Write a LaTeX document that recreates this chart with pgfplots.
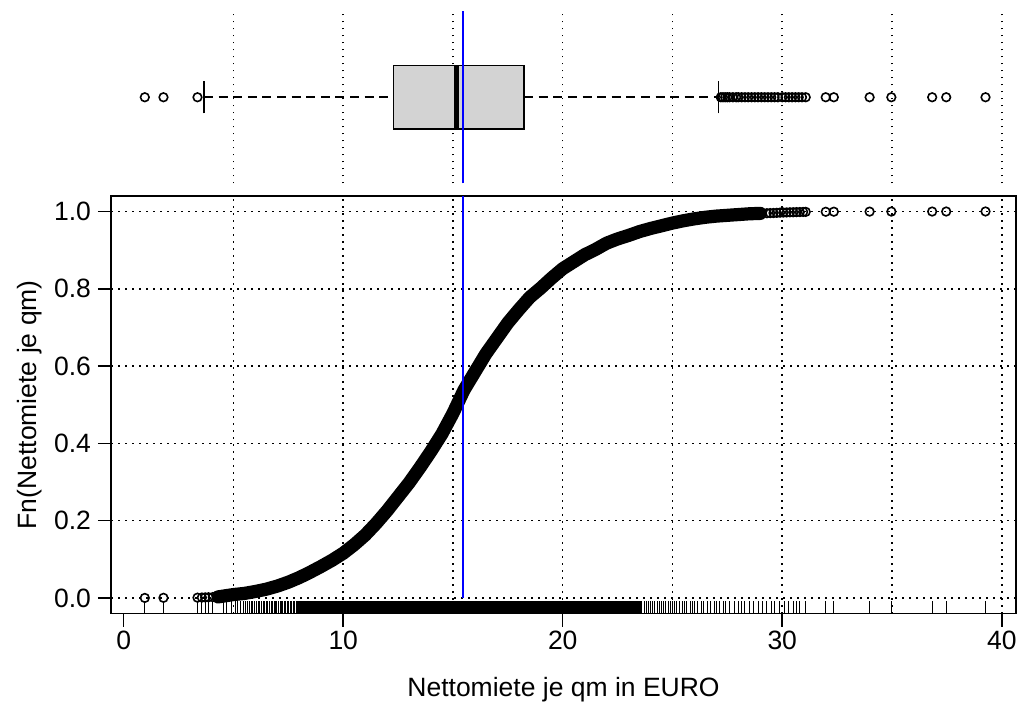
\documentclass[border=0pt]{standalone}
\usepackage{fontspec}
\setmainfont{Liberation Sans}
\usepackage{pgfplots}
\pgfplotsset{compat=1.18}
\definecolor{boxgray}{RGB}{211,211,211}
\pgfplotsset{
  gridst/.style={black, line width=0.75pt, dash pattern=on 0.75pt off 2.75pt},
  every tick label/.append style={font=\fontsize{13.25}{15}\selectfont},
  every axis label/.append style={font=\fontsize{13.25}{15}\selectfont},
}
\begin{document}
\begin{tikzpicture}
\useasboundingbox (0,0) rectangle (510pt,356.5pt);
% ---------------- top panel: boxplot ----------------
\begin{axis}[at={(55.5pt,264.75pt)}, anchor=south west, scale only axis,
  width=452.5pt, height=86.25pt,
  xmin=-0.58, xmax=40.65, ymin=0, ymax=1,
  axis line style={draw=none},
  xtick={5,10,15,20,25,30,35,40}, xticklabels={}, ytick=\empty,
  major tick length=0pt, xmajorgrids, major grid style={gridst},
  clip=false]
% whiskers
\addplot[black, line width=0.9pt, dash pattern=on 4.5pt off 2.8pt] coordinates {(3.66,0.5) (12.29,0.5)};
\addplot[black, line width=0.9pt, dash pattern=on 4.5pt off 2.8pt] coordinates {(18.24,0.5) (27.1,0.5)};
\addplot[black, line width=0.8pt] coordinates {(3.66,0.407) (3.66,0.594)};
\addplot[black, line width=0.8pt] coordinates {(27.1,0.407) (27.1,0.594)};
% box
\addplot[fill=boxgray, draw=black, line width=0.8pt] coordinates {(12.29,0.316) (18.24,0.316) (18.24,0.684) (12.29,0.684)} -- cycle;
\addplot[black, line width=2.6pt] coordinates {(15.15,0.316) (15.15,0.684)};
% outliers
\addplot[only marks, mark=o, mark size=2.15pt, mark options={line width=0.8pt, black}] coordinates {
(0.96,0.5) (1.81,0.5) (3.36,0.5)
(27.2,0.5) (27.3,0.5) (27.4,0.5) (27.5,0.5) (27.6,0.5) (27.75,0.5) (27.9,0.5) (28.0,0.5) (28.15,0.5)
(28.3,0.5) (28.45,0.5) (28.6,0.5) (28.75,0.5) (28.9,0.5) (29.05,0.5) (29.2,0.5) (29.35,0.5)
(29.5,0.5) (29.65,0.5) (29.8,0.5) (30.0,0.5) (30.15,0.5) (30.3,0.5) (30.45,0.5) (30.6,0.5)
(30.75,0.5) (30.9,0.5) (31.07,0.5) (31.98,0.5) (32.35,0.5) (33.98,0.5) (34.97,0.5)
(36.83,0.5) (37.47,0.5) (39.26,0.5)};
\addplot[blue, line width=0.7pt] coordinates {(15.45,0) (15.45,1)};
\end{axis}
% ---------------- bottom panel: ECDF ----------------
\begin{axis}[at={(55.5pt,49.75pt)}, anchor=south west, scale only axis,
  width=452.5pt, height=208.75pt,
  xmin=-0.58, xmax=40.65, ymin=-0.04, ymax=1.04,
  xtick={0,10,20,30,40}, xticklabels={0,10,20,30,40},
  ytick={0,0.2,0.4,0.6,0.8,1}, yticklabels={0.0,0.2,0.4,0.6,0.8,1.0},
  minor xtick={5,10,15,20,25,30,35,40}, xminorgrids, ymajorgrids,
  major grid style={gridst}, minor grid style={gridst},
  tick align=outside, major tick length=6.5pt, minor tick length=0pt,
  xtick pos=lower, ytick pos=left,
  xticklabel style={yshift=1.5pt},
  axis line style={line width=0.75pt},
  major tick style={line width=0.75pt, black},
  xlabel={Nettomiete je qm in EURO}, ylabel={Fn(Nettomiete je qm)},
  xlabel style={at={(axis description cs:0.5,-0.1832)}, anchor=center},
  ylabel style={at={(axis description cs:-0.0895,0.5)}, anchor=center, rotate=0},
  ]
% rug
\addplot[fill=black, draw=none] coordinates {(7.9,-0.04) (23.6,-0.04) (23.6,-0.0077) (7.9,-0.0077)} -- cycle;
\addplot[only marks, mark=|, mark size=3.125pt, mark options={line width=0.45pt, black}] coordinates {
(0.96,-0.02385) (1.81,-0.02385) (3.36,-0.02385) (3.56,-0.02385) (3.71,-0.02385) (3.86,-0.02385) (4.06,-0.02385)
(4.55,-0.02385) (4.7,-0.02385) (4.93,-0.02385) (5.08,-0.02385) (5.2,-0.02385) (5.3,-0.02385) (5.45,-0.02385) (5.55,-0.02385) (5.65,-0.02385)
(5.72,-0.02385) (5.8,-0.02385) (5.88,-0.02385) (5.95,-0.02385) (6.05,-0.02385) (6.12,-0.02385) (6.2,-0.02385) (6.28,-0.02385) (6.35,-0.02385) (6.42,-0.02385) (6.5,-0.02385)
(6.57,-0.02385) (6.64,-0.02385) (6.72,-0.02385) (6.78,-0.02385) (6.85,-0.02385) (6.92,-0.02385) (6.98,-0.02385) (7.05,-0.02385) (7.12,-0.02385) (7.18,-0.02385) (7.25,-0.02385)
(7.32,-0.02385) (7.38,-0.02385) (7.45,-0.02385) (7.52,-0.02385) (7.58,-0.02385) (7.65,-0.02385) (7.72,-0.02385) (7.8,-0.02385) (7.85,-0.02385)
(23.7,-0.02385) (23.8,-0.02385) (23.9,-0.02385) (24.0,-0.02385) (24.1,-0.02385) (24.2,-0.02385) (24.3,-0.02385)
(24.4,-0.02385) (24.5,-0.02385) (24.6,-0.02385) (24.7,-0.02385) (24.8,-0.02385) (24.9,-0.02385) (25.0,-0.02385)
(25.1,-0.02385) (25.2,-0.02385) (25.3,-0.02385) (25.45,-0.02385) (25.55,-0.02385) (25.65,-0.02385) (25.8,-0.02385) (25.9,-0.02385) (26.0,-0.02385)
(26.15,-0.02385) (26.3,-0.02385) (26.4,-0.02385) (26.6,-0.02385) (26.75,-0.02385) (26.9,-0.02385) (27.0,-0.02385) (27.15,-0.02385) (27.3,-0.02385) (27.4,-0.02385)
(27.6,-0.02385) (27.8,-0.02385) (28.0,-0.02385) (28.15,-0.02385) (28.3,-0.02385) (28.5,-0.02385) (28.7,-0.02385) (28.9,-0.02385)
(29.1,-0.02385) (29.3,-0.02385) (29.5,-0.02385) (29.65,-0.02385) (29.85,-0.02385) (30.1,-0.02385) (30.3,-0.02385)
(30.5,-0.02385) (30.65,-0.02385) (30.8,-0.02385) (31.07,-0.02385) (31.98,-0.02385) (32.35,-0.02385) (33.98,-0.02385)
(34.97,-0.02385) (36.83,-0.02385) (37.47,-0.02385) (39.26,-0.02385)};
% ECDF dense band (overlapping circles)
\addplot[black, line width=6.6pt, line cap=round, line join=round] coordinates {
(4.3,0.003) (5.0,0.009) (5.5,0.012) (6.0,0.017) (6.5,0.023) (7.0,0.031) (7.5,0.041) (8.0,0.053)
(8.5,0.067) (9.0,0.082) (9.5,0.098) (10.0,0.116) (10.5,0.138) (11.0,0.163) (11.5,0.193) (12.0,0.226)
(12.5,0.262) (13.0,0.298) (13.5,0.338) (14.0,0.380) (14.5,0.425) (15.0,0.478) (15.5,0.538) (16.0,0.585)
(16.5,0.632) (17.0,0.672) (17.5,0.712) (18.0,0.746) (18.5,0.778) (19.0,0.802) (19.5,0.828) (20.0,0.852)
(20.5,0.870) (21.0,0.888) (21.5,0.902) (22.0,0.918) (22.5,0.929) (23.0,0.938) (23.5,0.948) (24.0,0.956)
(24.5,0.963) (25.0,0.970) (25.5,0.976) (26.0,0.981) (26.5,0.985) (27.0,0.988) (27.5,0.990)
(28.0,0.992) (28.5,0.994) (29.0,0.995)};
% individual circles in the tails
\addplot[only marks, mark=o, mark size=2.15pt, mark options={line width=0.8pt, black}] coordinates {
(0.96,0.0003) (1.81,0.0006) (3.36,0.001) (3.56,0.0013) (3.71,0.0017) (3.86,0.002) (4.06,0.0025)
(4.55,0.004) (4.7,0.005) (4.93,0.006) (5.08,0.007)
(29.3,0.9955) (29.45,0.9958) (29.6,0.996) (29.75,0.9965) (29.9,0.997) (30.05,0.9972) (30.2,0.9975)
(30.35,0.9978) (30.5,0.998) (30.65,0.9983) (30.8,0.9985) (30.95,0.9988) (31.07,0.999)
(31.98,0.9992) (32.35,0.9994) (33.98,0.9996) (34.97,0.9997) (36.83,0.9998) (37.47,0.9999) (39.26,1.0)};
\addplot[blue, line width=0.7pt] coordinates {(15.45,0) (15.45,1.1)};
\end{axis}
\end{tikzpicture}
\end{document}
